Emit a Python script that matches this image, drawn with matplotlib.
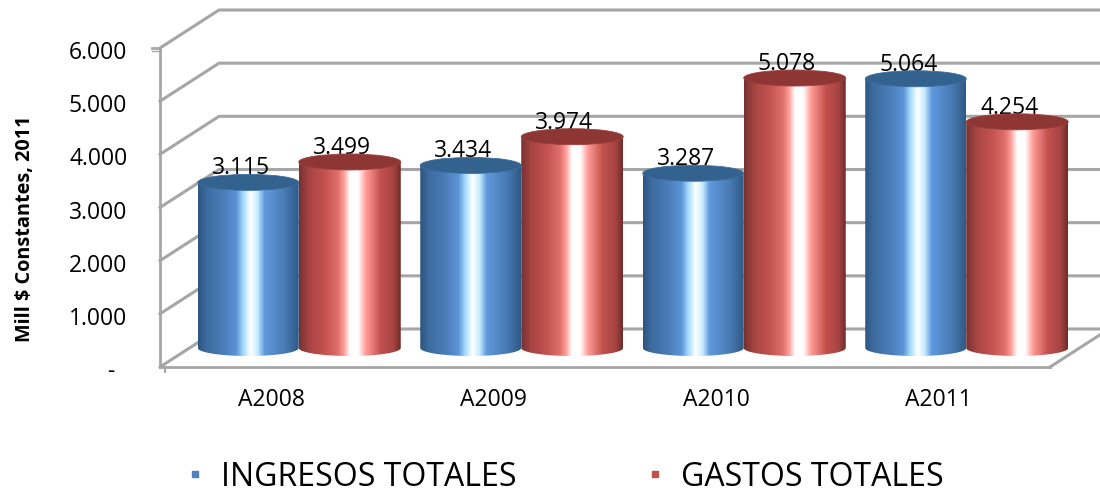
import numpy as np
import matplotlib.pyplot as plt
from matplotlib.colors import LinearSegmentedColormap
from matplotlib.lines import Line2D
from matplotlib.patches import Ellipse, Polygon
from matplotlib.transforms import ScaledTranslation

categories = ["A2008", "A2009", "A2010", "A2011"]
ingresos = [3115, 3434, 3287, 5064]
gastos = [3499, 3974, 5078, 4254]
labels_ingresos = ["3.115", "3.434", "3.287", "5.064"]
labels_gastos = ["3.499", "3.974", "5.078", "4.254"]
y_ticks = [0, 1000, 2000, 3000, 4000, 5000, 6000]
y_labels = ["-  ", "1.000", "2.000", "3.000", "4.000", "5.000", "6.000"]

plt.rcParams["font.family"] = ["Open Sans", "DejaVu Sans"]

W, H = 1100, 493
LEFT, RIGHT, TOP, BOTTOM = 160, 1050, 48, 367  # plot box, pixels
X_PX = (RIGHT - LEFT) / len(categories)
Y_PX = (BOTTOM - TOP) / 6000
GRID = "#a6a6a6"

blue = LinearSegmentedColormap.from_list("blue", [
    (0.00, "#2c5480"), (0.08, "#3c6b9e"), (0.25, "#4a7db8"), (0.38, "#5b94d6"),
    (0.45, "#a5dcff"), (0.52, "#ffffff"), (0.59, "#c8ecff"), (0.66, "#609ade"),
    (0.85, "#4a7cb6"), (1.00, "#2f5a86")])
red = LinearSegmentedColormap.from_list("red", [
    (0.00, "#763230"), (0.10, "#a64543"), (0.25, "#c4524f"), (0.38, "#de6f6b"),
    (0.44, "#ff9c97"), (0.50, "#ffffff"), (0.58, "#ffffff"), (0.66, "#ff9a95"),
    (0.80, "#c4524f"), (0.93, "#a54442"), (1.00, "#6e2c2a")])

fig = plt.figure(figsize=(W / 100, H / 100), dpi=100)
ax = fig.add_axes([LEFT / W, 1 - BOTTOM / H, (RIGHT - LEFT) / W, (BOTTOM - TOP) / H])
ax.set_xlim(0, len(categories))
ax.set_ylim(0, 6000)

# depth of the 3D box, as data units
dx = 59 / X_PX
dy = 38 / Y_PX

for s in ["top", "right"]:
    ax.spines[s].set_visible(False)
for s in ["left", "bottom"]:
    ax.spines[s].set_color(GRID)
    ax.spines[s].set_linewidth(2)

ax.set_yticks(y_ticks, y_labels, fontsize=16.5, color="black")
ax.set_xticks(np.arange(len(categories)) + 0.5, categories, fontsize=16.5)
ax.tick_params(axis="both", length=0)
ax.tick_params(axis="y", pad=23.5)
ax.tick_params(axis="x", pad=15)
down = ScaledTranslation(0, -1.5 / 72, fig.dpi_scale_trans)
for lab in ax.get_yticklabels():
    lab.set_transform(lab.get_transform() + down)
ax.set_ylabel("Mill $ Constantes, 2011", fontsize=14.3, fontweight="bold")
ax.yaxis.set_label_coords((35 - LEFT) / (RIGHT - LEFT), (BOTTOM - 229) / (BOTTOM - TOP))

# walls: side diagonals and back gridlines
for v in y_ticks:
    ax.plot([0, dx, 4 + dx], [v, v + dy, v + dy], color=GRID, lw=2.2, clip_on=False, zorder=1)
ax.plot([4, 4 + dx], [0, dy], color=GRID, lw=2.2, clip_on=False, zorder=1)
ax.plot([-8 / X_PX, 0], [6000, 6000], color=GRID, lw=2, clip_on=False, zorder=1)
ax.plot([-8 / X_PX, 0], [5950, 5950], color=GRID, lw=1, clip_on=False, zorder=1)
ax.plot([5 / X_PX, 5 / X_PX], [0, -90], color=GRID, lw=1.5, clip_on=False, zorder=1)


def draw_cylinder(x0, width, value, cmap, top_color, edge_color, z):
    # bar stands half way into the depth of the box
    rh = 8 / Y_PX
    x1 = x0 + width
    base = dy / 2
    top = base + value
    t = np.linspace(np.pi, 2 * np.pi, 60)
    xs = (x0 + x1) / 2 + width / 2 * np.cos(t)
    ys = base + rh * np.sin(t)
    outline = np.vstack([[x0, top], np.column_stack([xs, ys]), [x1, top]])
    body = Polygon(outline, closed=True, transform=ax.transData, fc="none", ec="none")
    ax.add_patch(body)
    body.set_clip_on(False)
    grad = np.linspace(0, 1, 256).reshape(1, -1)
    im = ax.imshow(grad, cmap=cmap, extent=[x0, x1, base - rh, top], aspect="auto",
                   zorder=z, interpolation="bilinear")
    im.set_clip_box(fig.bbox)
    im.set_clip_path(body)
    cap = Ellipse(((x0 + x1) / 2, top), width, 2 * rh, fc=top_color, ec=edge_color, lw=0.6,
                  zorder=z + 0.1, clip_on=False)
    ax.add_patch(cap)


def label_bar(x0, value, text, z):
    ax.text(x0 + 43 / X_PX, value + dy / 2 + 14 / Y_PX, text, ha="center", va="center",
            fontsize=16.5, color="black", clip_on=False, zorder=z)


for i in range(len(categories)):
    c = i + 0.5 + dx / 2 - 2 / X_PX
    x_blue = c - 101 / X_PX
    draw_cylinder(x_blue, 101 / X_PX, ingresos[i], blue, "#34628f", "#3f6e9e", 3)
    draw_cylinder(c, 102 / X_PX, gastos[i], red, "#8e3634", "#9c403d", 4)
    label_bar(x_blue, ingresos[i], labels_ingresos[i], 2.5)
    label_bar(c, gastos[i], labels_gastos[i], 2.5)

ax.set_xlim(0, len(categories))
ax.set_ylim(0, 6000)

handles = [
    Line2D([], [], ls="none", marker="s", ms=5, color="#4f81bd", label="INGRESOS TOTALES"),
    Line2D([], [], ls="none", marker="s", ms=5, color="#c0504d", label="GASTOS TOTALES"),
]
fig.legend(handles=handles, ncol=2, frameon=False, fontsize=23, loc="center",
           bbox_to_anchor=(563 / W, 1 - 477 / H), columnspacing=3.95, handletextpad=0.4,
           handlelength=0.8, borderpad=0)

fig.savefig("out.png", dpi=100)
